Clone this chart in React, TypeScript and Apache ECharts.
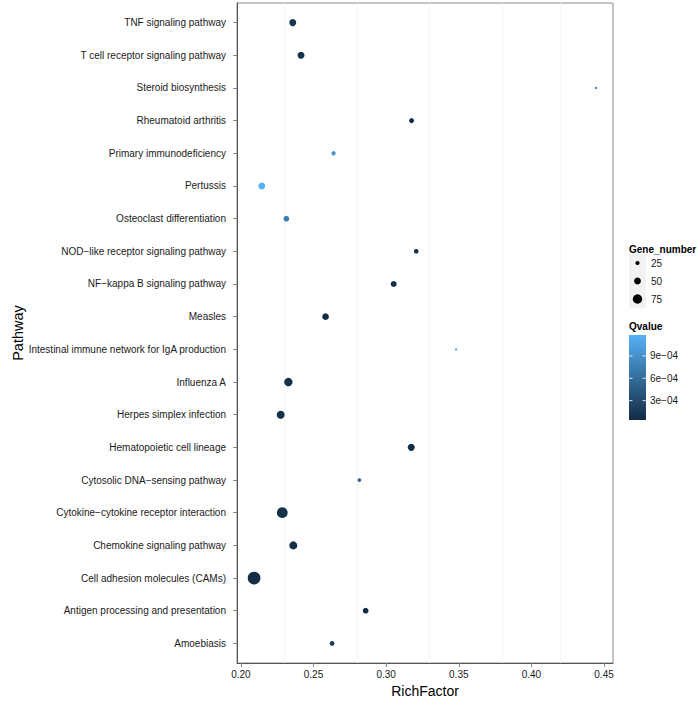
import React, { useEffect, useRef } from "react";
import * as echarts from "echarts";

const pathways = [
  "TNF signaling pathway",
  "T cell receptor signaling pathway",
  "Steroid biosynthesis",
  "Rheumatoid arthritis",
  "Primary immunodeficiency",
  "Pertussis",
  "Osteoclast differentiation",
  "NOD\u2212like receptor signaling pathway",
  "NF\u2212kappa B signaling pathway",
  "Measles",
  "Intestinal immune network for IgA production",
  "Influenza A",
  "Herpes simplex infection",
  "Hematopoietic cell lineage",
  "Cytosolic DNA\u2212sensing pathway",
  "Cytokine\u2212cytokine receptor interaction",
  "Chemokine signaling pathway",
  "Cell adhesion molecules (CAMs)",
  "Antigen processing and presentation",
  "Amoebiasis",
];
const richFactor = [
  0.2357, 0.2414, 0.4444, 0.3175, 0.2638, 0.2144, 0.2313, 0.3207, 0.3052, 0.2583,
  0.3481, 0.2327, 0.2274, 0.3173, 0.2816, 0.2285, 0.2361, 0.2091, 0.2859, 0.2628,
];
const geneNumber = [52, 52, 6, 33, 27, 50, 40, 30, 42, 49, 8, 65, 61, 52, 21, 87, 61, 106, 40, 30];
const qValue = [
  1.3e-4, 1.0e-4, 6.2e-4, 6e-5, 9.3e-4, 1.18e-3, 7.4e-4, 8e-5, 7e-5, 6e-5,
  1.07e-3, 8e-5, 9e-5, 5e-5, 5.2e-4, 8e-5, 7e-5, 6e-5, 4e-5, 1.8e-4,
];
const xTicks = [0.2, 0.25, 0.3, 0.35, 0.4, 0.45];
const xMinorGrid = [0.225, 0.275, 0.325, 0.375, 0.425];
const sizeLegend = [25, 50, 75];
const qTicks = [3e-4, 6e-4, 9e-4];
const qTickLabels = ["3e\u221204", "6e\u221204", "9e\u221204"];

const FONT = "Liberation Sans, Arial, Helvetica, sans-serif";
const LOW = "#132B43";
const HIGH = "#56B1F7";

const sizeFn = (n: number) => 1.5 + 0.106 * n;

export default function App() {
  const ref = useRef<HTMLDivElement>(null);
  useEffect(() => {
    if (!ref.current) return;
    const chart = echarts.init(ref.current, null, { renderer: "svg" });

    const rMin = Math.min(...richFactor);
    const rMax = Math.max(...richFactor);
    const pad = (rMax - rMin) * 0.05;
    const xMin = rMin - pad;
    const xMax = rMax + pad;
    const qMin = Math.min(...qValue);
    const qMax = Math.max(...qValue);

    const PL = 237, PT = 3, PW = 376, PH = 660;
    const unit = PH / (pathways.length - 1 + 1.2);
    const dataTop = PT + 0.1 * unit;
    const dataH = unit * pathways.length;

    const cbX = 629, cbY = 335, cbW = 17, cbH = 85;
    const qToY = (q: number) => cbY + cbH - ((q - qMin) / (qMax - qMin)) * cbH;

    const graphics: any[] = [];
    graphics.push({
      type: "text",
      left: 629,
      top: 244,
      style: { text: "Gene_number", font: `bold 10px ${FONT}`, fill: "#000" },
    });
    sizeLegend.forEach((n, i) => {
      const cy = 263 + i * 18;
      graphics.push({
        type: "rect",
        shape: { x: 629, y: cy - 9, width: 17, height: 18 },
        style: { fill: "#f2f2f2" },
      });
      graphics.push({
        type: "circle",
        shape: { cx: 637.5, cy, r: sizeFn(n) / 2 },
        style: { fill: "#000" },
      });
      graphics.push({
        type: "text",
        x: 651,
        y: cy,
        style: { text: String(n), font: `10px ${FONT}`, fill: "#1a1a1a", verticalAlign: "middle" },
      });
    });
    graphics.push({
      type: "text",
      left: 629,
      top: 321,
      style: { text: "Qvalue", font: `bold 10px ${FONT}`, fill: "#000" },
    });
    graphics.push({
      type: "rect",
      shape: { x: cbX, y: cbY, width: cbW, height: cbH },
      style: {
        fill: new echarts.graphic.LinearGradient(0, 0, 0, 1, [
          { offset: 0, color: HIGH },
          { offset: 1, color: LOW },
        ]),
      },
    });
    qTicks.forEach((q, i) => {
      const y = qToY(q);
      graphics.push({
        type: "line",
        shape: { x1: cbX, y1: y, x2: cbX + 3.5, y2: y },
        style: { stroke: "rgba(255,255,255,0.8)", lineWidth: 1 },
      });
      graphics.push({
        type: "line",
        shape: { x1: cbX + cbW - 3.5, y1: y, x2: cbX + cbW, y2: y },
        style: { stroke: "rgba(255,255,255,0.8)", lineWidth: 1 },
      });
      graphics.push({
        type: "text",
        x: 650,
        y,
        style: { text: qTickLabels[i], font: `10px ${FONT}`, fill: "#1a1a1a", verticalAlign: "middle" },
      });
    });

    chart.setOption({
      animation: false,
      backgroundColor: "#fff",
      grid: [
        { left: PL, top: PT, width: PW, height: PH, show: true, borderColor: "#8a8a8a", borderWidth: 1, backgroundColor: "#fff" },
        { left: PL, top: dataTop, width: PW, height: dataH, show: false },
      ],
      xAxis: [
        {
          gridIndex: 0,
          type: "value",
          min: xMin,
          max: xMax,
          name: "RichFactor",
          nameLocation: "middle",
          nameGap: 19,
          nameTextStyle: { fontFamily: FONT, fontSize: 14, color: "#000" },
          axisLine: { show: true, lineStyle: { color: "#555", width: 1 } },
          axisTick: { show: true, length: 4, lineStyle: { color: "#888" }, customValues: xTicks },
          axisLabel: {
            show: true,
            margin: 6,
            fontFamily: FONT,
            fontSize: 10,
            color: "#1a1a1a",
            customValues: xTicks,
            formatter: (v: number) => v.toFixed(2),
          },
          splitLine: { show: false },
        },
        { gridIndex: 1, type: "value", min: xMin, max: xMax, show: false },
      ],
      yAxis: [
        {
          gridIndex: 0,
          type: "value",
          min: 0,
          max: 1,
          name: "Pathway",
          nameLocation: "middle",
          nameGap: 212,
          nameRotate: 90,
          nameTextStyle: { fontFamily: FONT, fontSize: 14.5, color: "#000" },
          axisLine: { show: true, lineStyle: { color: "#555", width: 1 } },
          axisTick: { show: false },
          axisLabel: { show: false },
          splitLine: { show: false },
        },
        {
          gridIndex: 1,
          type: "category",
          data: pathways,
          inverse: true,
          boundaryGap: true,
          axisLine: { show: false },
          axisTick: { show: true, alignWithLabel: true, length: 4, lineStyle: { color: "#888" } },
          axisLabel: { interval: 0, margin: 11, fontFamily: FONT, fontSize: 10, color: "#1a1a1a" },
          splitLine: { show: false },
        },
      ],
      visualMap: {
        show: false,
        type: "continuous",
        dimension: 2,
        seriesIndex: 0,
        min: qMin,
        max: qMax,
        inRange: { color: [LOW, HIGH] },
      },
      series: [
        {
          type: "scatter",
          xAxisIndex: 1,
          yAxisIndex: 1,
          data: pathways.map((p, i) => [richFactor[i], p, qValue[i], geneNumber[i]]),
          symbolSize: (v: any[]) => sizeFn(v[3]),
          itemStyle: { opacity: 1 },
          silent: true,
          z: 5,
        },
        {
          type: "scatter",
          xAxisIndex: 0,
          yAxisIndex: 0,
          data: [],
          silent: true,
          z: 1,
          markLine: {
            silent: true,
            symbol: "none",
            z: 1,
            label: { show: false },
            lineStyle: { color: "#f4f4f4", width: 1, type: "solid" },
            data: xMinorGrid.map((x) => ({ xAxis: x })),
          },
        },
      ],
      graphic: graphics,
    });
    return () => chart.dispose();
  }, []);
  return <div ref={ref} style={{ width: 697, height: 706, position: "absolute", left: 0, top: 0 }} />;
}
